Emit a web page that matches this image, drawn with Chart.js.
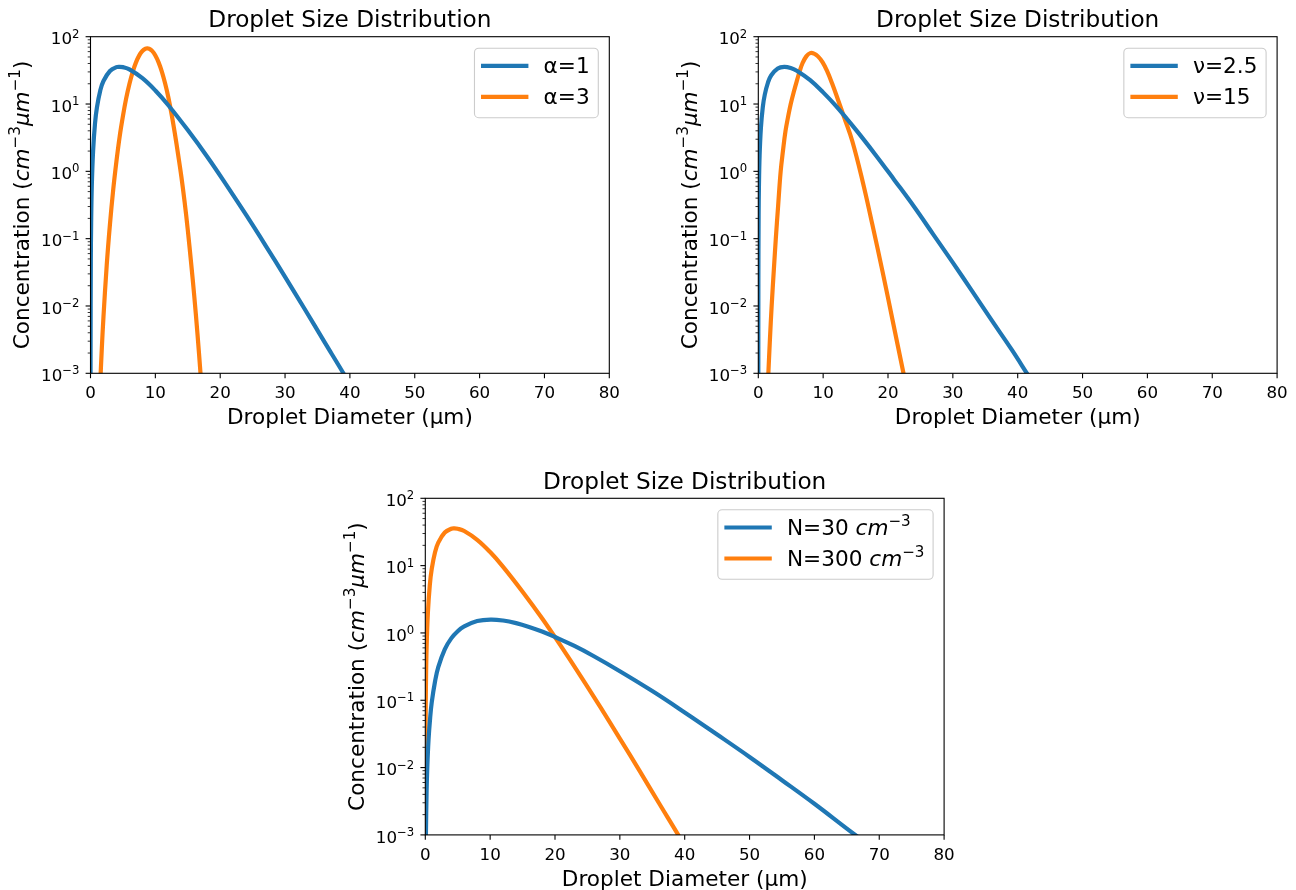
<!DOCTYPE html>
<html>
<head>
<meta charset="utf-8">
<title>Droplet Size Distribution</title>
<script src="https://cdn.jsdelivr.net/npm/chart.js@4.4.0/dist/chart.umd.min.js"></script>
<style>
  html, body { margin: 0; padding: 0; background: #fff; }
  #wrap { position: relative; width: 1296px; height: 890px; }
  #wrap canvas { position: absolute; left: 0; top: 0; }
</style>
</head>
<body>
<div id="wrap">
  <canvas id="chartAlpha" width="1296" height="890"></canvas>
  <canvas id="chartNu" width="1296" height="890"></canvas>
  <canvas id="chartN" width="1296" height="890"></canvas>
</div>
<script>
// Values: droplet diameter (µm) -> concentration (cm^-3 µm^-1)
const xTicks = [0, 10, 20, 30, 40, 50, 60, 70, 80];
const yTicks = [1e-3, 1e-2, 1e-1, 1, 10, 100];

// top left panel
const alpha1Diam = [0.003, 0.01, 0.05, 0.1, 0.2, 0.4, 0.7, 1, 1.5, 2, 3, 4, 4.5, 5, 6, 8, 10, 12, 15, 18, 21, 24, 27, 30, 33, 36, 39, 42];
const alpha1Conc = [0.0002, 0.0022, 0.045, 0.17, 0.6, 2.0, 5.2, 9.0, 15.8, 22, 31, 35.3, 35.7, 35.3, 32.7, 24.2, 15.9, 9.6, 4.1, 1.65, 0.62, 0.225, 0.079, 0.027, 0.0091, 0.003, 0.001, 0.00032];
const alpha3Diam = [1.3, 1.5, 1.75, 2, 2.5, 3, 3.5, 4, 4.5, 5, 5.5, 6, 6.5, 7, 7.5, 8, 8.5, 8.76, 9, 9.5, 10, 10.5, 11, 11.5, 12, 12.5, 13, 13.5, 14, 14.5, 15, 15.5, 16, 16.5, 17, 17.5];
const alpha3Conc = [0.00023, 0.0007, 0.0024, 0.0069, 0.04, 0.164, 0.53, 1.41, 3.3, 6.6, 12.1, 19.9, 29.8, 41.2, 52.3, 61.2, 66.3, 67, 66.4, 61.5, 52.6, 41.6, 30.3, 20.3, 12.6, 7.1, 3.7, 1.8, 0.85, 0.36, 0.135, 0.045, 0.014, 0.0038, 0.0009, 0.0002];

// top right panel
const nu25Diam = [0.001, 0.01, 0.05, 0.1, 0.2, 0.4, 0.7, 1, 1.5, 2, 3, 4, 5, 6, 8, 10, 12, 15, 18, 21, 24, 27, 30, 33, 36, 39, 42, 45];
const nu25Conc = [0.0007, 0.021, 0.22, 0.62, 1.7, 4.4, 9.1, 13.8, 21, 26.8, 33.8, 35.7, 34.3, 31, 22.6, 14.9, 9.3, 4.2, 1.8, 0.74, 0.3, 0.115, 0.044, 0.0165, 0.0061, 0.0023, 0.00082, 0.0003];
const nu15Diam = [1.3, 1.55, 1.8, 2.06, 2.4, 2.7, 3.05, 3.45, 3.8, 4.2, 4.6, 5.0, 5.5, 6.0, 6.4, 6.8, 7.4, 8.0, 8.6, 9.2, 9.9, 10.6, 11.4, 12.3, 13.25, 14.5, 16.1, 17.6, 19.2, 20.7, 22.3, 22.8];
const nu15Conc = [0.0003, 0.001, 0.0033, 0.01, 0.035, 0.1, 0.3, 1.0, 2.0, 4.0, 6.5, 10, 15.5, 23, 31, 40, 51, 57, 56, 51, 42, 31, 20, 11.5, 6.3, 2.8, 0.70, 0.16, 0.031, 0.0062, 0.0011, 0.00065];

// bottom panel
const n30Diam = [0.05, 0.1, 0.2, 0.3, 0.5, 0.75, 1, 1.5, 2, 3, 4, 5, 6, 8, 10.1, 12, 14, 16, 18, 20, 23, 26, 30, 35, 40, 45, 50, 55, 60, 65, 68];
const n30Conc = [0.00028, 0.0011, 0.0044, 0.0097, 0.026, 0.055, 0.094, 0.19, 0.31, 0.57, 0.83, 1.06, 1.25, 1.5, 1.58, 1.53, 1.4, 1.23, 1.05, 0.87, 0.64, 0.45, 0.27, 0.137, 0.066, 0.031, 0.0144, 0.0065, 0.0029, 0.00124, 0.00075];
const n300Diam = [0.003, 0.01, 0.05, 0.1, 0.2, 0.4, 0.7, 1, 1.5, 2, 3, 4, 4.5, 5, 6, 8, 10, 12, 15, 18, 21, 24, 27, 30, 33, 36, 39, 42];
const n300Conc = [0.0002, 0.0022, 0.045, 0.17, 0.6, 2.0, 5.2, 9.0, 15.8, 22, 31, 35.3, 35.7, 35.3, 32.7, 24.2, 15.9, 9.6, 4.1, 1.65, 0.62, 0.225, 0.079, 0.027, 0.0091, 0.003, 0.001, 0.00032];

const blue = '#1f77b4';
const orange = '#ff7f0e';
const FONT = '"DejaVu Sans"';

const titleText = 'Droplet Size Distribution';
const xLabel = [['Droplet Diameter (µm)', 'n']];
const yLabel = [['Concentration (', 'n'], ['cm', 'i'], ['−3', 's'], ['μm', 'i'], ['−1', 's'], [')', 'n']];

// rich text helpers: parts are [text, kind] with kind n = normal, i = italic, s = superscript
function setFont(ctx, kind, size) {
    if (kind === 'i') ctx.font = 'italic ' + size + 'px ' + FONT;
    else if (kind === 's') ctx.font = (size * 0.7) + 'px ' + FONT;
    else ctx.font = size + 'px ' + FONT;
}

function richWidth(ctx, parts, size) {
    let w = 0;
    parts.forEach(p => {
        setFont(ctx, p[1], size);
        w += ctx.measureText(p[0]).width;
    });
    return w;
}

function drawRich(ctx, parts, x, y, size, align) {
    const w = richWidth(ctx, parts, size);
    let cx = align === 'center' ? x - w / 2 : (align === 'right' ? x - w : x);
    ctx.textAlign = 'left';
    ctx.textBaseline = 'alphabetic';
    parts.forEach(p => {
        setFont(ctx, p[1], size);
        ctx.fillText(p[0], cx, p[1] === 's' ? y - size * 0.4 : y);
        cx += ctx.measureText(p[0]).width;
    });
}

function tick(ctx, x1, y1, x2, y2, w) {
    ctx.lineWidth = w;
    ctx.beginPath();
    ctx.moveTo(x1, y1);
    ctx.lineTo(x2, y2);
    ctx.stroke();
}

function roundRect(ctx, x, y, w, h, r) {
    ctx.beginPath();
    ctx.moveTo(x + r, y);
    ctx.arcTo(x + w, y, x + w, y + h, r);
    ctx.arcTo(x + w, y + h, x, y + h, r);
    ctx.arcTo(x, y + h, x, y, r);
    ctx.arcTo(x, y, x + w, y, r);
    ctx.closePath();
}

// matplotlib-like frame: spines, ticks, labels, title and legend
const mplFrame = {
    id: 'mplFrame',
    afterDatasetsDraw(chart) {
        const opts = chart.options.plugins.mplFrame;
        const ctx = chart.ctx;
        const a = chart.chartArea;
        const xs = chart.scales.x;
        const ys = chart.scales.y;
        ctx.save();
        ctx.fillStyle = '#000';
        ctx.strokeStyle = '#000';
        ctx.lineCap = 'butt';

        // spines
        ctx.lineWidth = 1.1;
        ctx.strokeRect(a.left, a.top, a.right - a.left, a.bottom - a.top);

        // x ticks
        xTicks.forEach(v => {
            const px = xs.getPixelForValue(v);
            tick(ctx, px, a.bottom, px, a.bottom + 4.9, 1.1);
            drawRich(ctx, [[String(v), 'n']], px, a.bottom + 24.7, 16.7, 'center');
        });

        // y ticks, major and minor
        yTicks.forEach((v, i) => {
            const py = ys.getPixelForValue(v);
            tick(ctx, a.left - 4.9, py, a.left, py, 1.1);
            const e = Math.round(Math.log10(v));
            const exp = e < 0 ? '−' + (-e) : String(e);
            drawRich(ctx, [['10', 'n'], [exp, 's']], a.left - 11, py + 7.7, 16.7, 'right');
            if (i < yTicks.length - 1) {
                for (let m = 2; m <= 9; m++) {
                    const pm = ys.getPixelForValue(v * m);
                    tick(ctx, a.left - 2.8, pm, a.left, pm, 0.8);
                }
            }
        });

        // title and axis labels
        const cx = (a.left + a.right) / 2;
        drawRich(ctx, [[titleText, 'n']], cx, a.top - 9.4, 23.2, 'center');
        drawRich(ctx, xLabel, cx, a.bottom + 50.7, 21.6, 'center');
        ctx.save();
        ctx.translate(a.left - 61.5, (a.top + a.bottom) / 2);
        ctx.rotate(-Math.PI / 2);
        drawRich(ctx, yLabel, 0, 0, 21.6, 'center');
        ctx.restore();

        // legend
        const fs = 21.6;
        const items = opts.legend;
        let tw = 0;
        items.forEach(it => { tw = Math.max(tw, richWidth(ctx, it.label, fs)); });
        const bw = 0.4 * fs + 2.0 * fs + 0.8 * fs + tw + 0.4 * fs;
        const bh = 69.5;
        const bx = a.right - 11 - bw;
        const by = a.top + 11.5;
        roundRect(ctx, bx, by, bw, bh, 0.2 * fs);
        ctx.fillStyle = 'rgba(255,255,255,0.8)';
        ctx.fill();
        ctx.strokeStyle = '#cccccc';
        ctx.lineWidth = 1.1;
        ctx.stroke();
        items.forEach((it, k) => {
            const ry = by + 17.7 + k * 31;
            const hx = bx + 0.4 * fs;
            ctx.strokeStyle = it.color;
            ctx.lineCap = 'square';
            tick(ctx, hx, ry, hx + 2.0 * fs, ry, 4.2);
            ctx.fillStyle = '#000';
            drawRich(ctx, it.label, hx + 2.8 * fs, ry + 7, fs, 'left');
        });
        ctx.restore();
    }
};

function toPoints(xs, ys) {
    return xs.map((d, i) => ({x: d, y: ys[i]}));
}

const panels = [
    {
        id: 'chartAlpha',
        area: {left: 90.5, top: 36.7, right: 609.3, bottom: 373.3},
        series: [
            {label: [['α=1', 'n']], diam: alpha1Diam, conc: alpha1Conc, color: blue},
            {label: [['α=3', 'n']], diam: alpha3Diam, conc: alpha3Conc, color: orange}
        ]
    },
    {
        id: 'chartNu',
        area: {left: 758.3, top: 36.7, right: 1277.1, bottom: 373.3},
        series: [
            {label: [['ν=2.5', 'n']], diam: nu25Diam, conc: nu25Conc, color: blue},
            {label: [['ν=15', 'n']], diam: nu15Diam, conc: nu15Conc, color: orange}
        ]
    },
    {
        id: 'chartN',
        area: {left: 425.3, top: 498.3, right: 944.1, bottom: 834.9},
        series: [
            {label: [['N=30 ', 'n'], ['cm', 'i'], ['−3', 's']], diam: n30Diam, conc: n30Conc, color: blue},
            {label: [['N=300 ', 'n'], ['cm', 'i'], ['−3', 's']], diam: n300Diam, conc: n300Conc, color: orange}
        ]
    }
];

panels.forEach(p => {
    const a = p.area;
    new Chart(document.getElementById(p.id), {
        type: 'line',
        data: {
            datasets: p.series.map(s => ({
                data: toPoints(s.diam, s.conc),
                borderColor: s.color,
                borderWidth: 4.2,
                borderJoinStyle: 'round',
                pointRadius: 0,
                fill: false,
                tension: 0.4,
                clip: 0
            }))
        },
        options: {
            responsive: false,
            animation: false,
            devicePixelRatio: 1,
            layout: {
                padding: {left: a.left, top: a.top, right: 1296 - a.right, bottom: 890 - a.bottom}
            },
            scales: {
                x: {type: 'linear', min: 0, max: 80, display: false},
                y: {type: 'logarithmic', min: 1e-3, max: 100, display: false}
            },
            plugins: {
                legend: {display: false},
                tooltip: {enabled: false},
                title: {display: false},
                mplFrame: {legend: p.series.map(s => ({label: s.label, color: s.color}))}
            }
        },
        plugins: [mplFrame]
    });
});
</script>
</body>
</html>
